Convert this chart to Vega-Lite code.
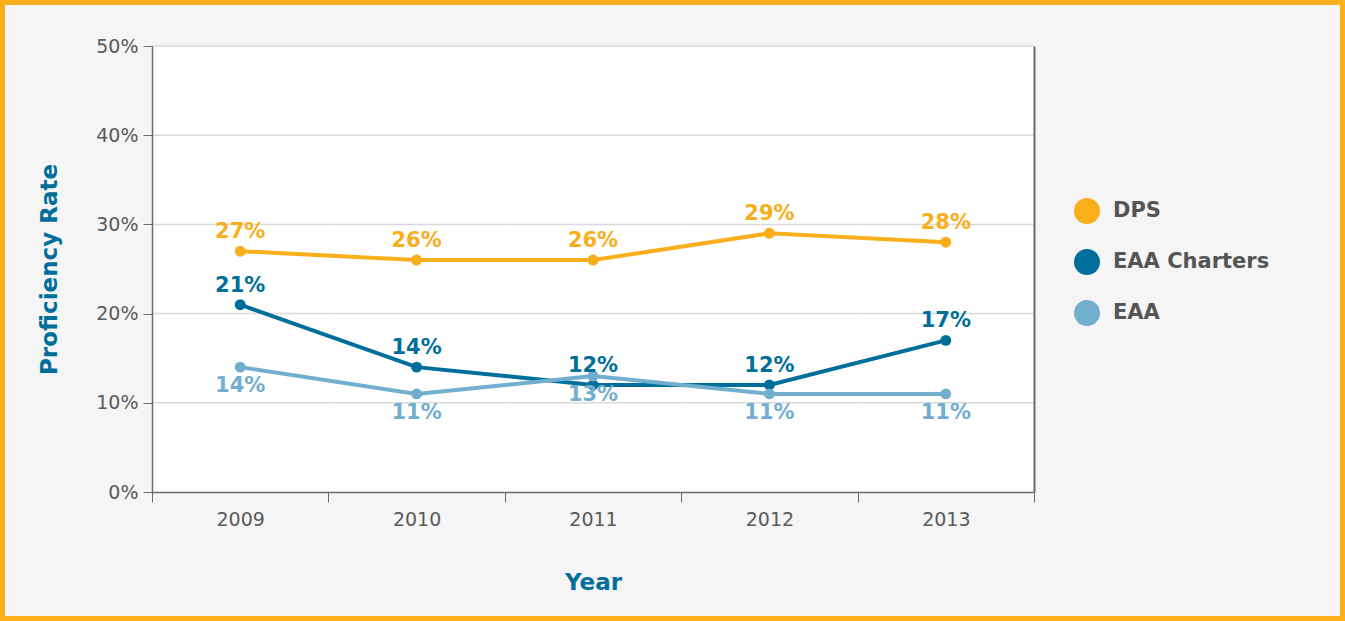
{
  "$schema": "https://vega.github.io/schema/vega-lite/v6.json",
  "width": 1345,
  "height": 621,
  "autosize": "none",
  "padding": 0,
  "background": "#F5F5F5",
  "config": {
    "view": {"fill": "#F5F5F5", "stroke": "#F9AE1B", "strokeWidth": 10},
    "font": "DejaVu Sans",
    "axis": {"zindex": 1},
    "legend": {
      "orient": "none",
      "legendX": 1074,
      "legendY": 198,
      "symbolType": "circle",
      "symbolSize": 676,
      "symbolOpacity": 1,
      "symbolStrokeWidth": 0,
      "labelFontSize": 21,
      "labelFontWeight": "bold",
      "labelColor": "#555555",
      "labelOffset": 13,
      "rowPadding": 25
    }
  },
  "data": {
    "values": [
      {"year": "2009", "series": "DPS", "value": 0.27},
      {"year": "2010", "series": "DPS", "value": 0.26},
      {"year": "2011", "series": "DPS", "value": 0.26},
      {"year": "2012", "series": "DPS", "value": 0.29},
      {"year": "2013", "series": "DPS", "value": 0.28},
      {"year": "2009", "series": "EAA Charters", "value": 0.21},
      {"year": "2010", "series": "EAA Charters", "value": 0.14},
      {"year": "2011", "series": "EAA Charters", "value": 0.12},
      {"year": "2012", "series": "EAA Charters", "value": 0.12},
      {"year": "2013", "series": "EAA Charters", "value": 0.17},
      {"year": "2009", "series": "EAA", "value": 0.14},
      {"year": "2010", "series": "EAA", "value": 0.11},
      {"year": "2011", "series": "EAA", "value": 0.13},
      {"year": "2012", "series": "EAA", "value": 0.11},
      {"year": "2013", "series": "EAA", "value": 0.11}
    ]
  },
  "encoding": {
    "x": {
      "field": "year",
      "type": "ordinal",
      "scale": {"range": [152, 1034], "paddingInner": 0, "paddingOuter": 0},
      "axis": {
        "orient": "bottom",
        "offset": -129,
        "zindex": 1,
        "title": "Year",
        "labelAngle": 0,
        "labelFontSize": 19,
        "labelColor": "#5A5A5A",
        "labelPadding": 8,
        "tickBand": "extent",
        "tickSize": 10,
        "tickColor": "#6B6B6B",
        "domainColor": "#6B6B6B",
        "domainWidth": 1.5,
        "titleFontSize": 23,
        "titleFontWeight": "bold",
        "titleColor": "#006E9A",
        "titlePadding": 42,
        "grid": false
      }
    }
  },
  "layer": [
    {
      "transform": [{"filter": "datum.series === 'DPS'"}],
      "mark": {"type": "bar", "color": "white", "stroke": "white", "strokeWidth": 1},
      "encoding": {
        "y": {
          "datum": 0,
          "type": "quantitative",
          "scale": {"domain": [0, 0.5], "range": [492, 46], "nice": false},
          "axis": {
            "orient": "right",
            "offset": -311,
            "zindex": 1,
            "labels": false,
            "ticks": false,
            "grid": false,
            "title": null,
            "domainColor": "#6B6B6B",
            "domainWidth": 2
          }
        },
        "y2": {"datum": 0.5}
      }
    },
    {
      "transform": [{"filter": "datum.series === 'DPS'"}],
      "layer": [
        {
          "mark": {"type": "bar", "fillOpacity": 0, "stroke": "#D9D9D9", "strokeWidth": 1.5},
          "encoding": {"y": {"datum": 0.1, "type": "quantitative", "axis": null}, "y2": {"datum": 0.1}}
        },
        {
          "mark": {"type": "bar", "fillOpacity": 0, "stroke": "#D9D9D9", "strokeWidth": 1.5},
          "encoding": {"y": {"datum": 0.2, "type": "quantitative", "axis": null}, "y2": {"datum": 0.2}}
        },
        {
          "mark": {"type": "bar", "fillOpacity": 0, "stroke": "#D9D9D9", "strokeWidth": 1.5},
          "encoding": {"y": {"datum": 0.3, "type": "quantitative", "axis": null}, "y2": {"datum": 0.3}}
        },
        {
          "mark": {"type": "bar", "fillOpacity": 0, "stroke": "#D9D9D9", "strokeWidth": 1.5},
          "encoding": {"y": {"datum": 0.4, "type": "quantitative", "axis": null}, "y2": {"datum": 0.4}}
        },
        {
          "mark": {"type": "bar", "fillOpacity": 0, "stroke": "#D9D9D9", "strokeWidth": 1.5},
          "encoding": {"y": {"datum": 0.5, "type": "quantitative", "axis": null}, "y2": {"datum": 0.5}}
        }
      ]
    },
    {
      "mark": {"type": "line", "strokeWidth": 4},
      "encoding": {
        "y": {
          "field": "value",
          "type": "quantitative",
          "scale": {"domain": [0, 0.5], "range": [492, 46], "nice": false},
          "axis": {
            "orient": "left",
            "offset": -152,
            "zindex": 1,
            "values": [0, 0.1, 0.2, 0.3, 0.4, 0.5],
            "format": ".0%",
            "title": "Proficiency Rate",
            "labelFontSize": 19,
            "labelColor": "#5A5A5A",
            "labelPadding": 5,
            "tickSize": 9,
            "tickColor": "#6B6B6B",
            "domainColor": "#6B6B6B",
            "domainWidth": 1.5,
            "grid": false,
            "titleFontSize": 23,
            "titleFontWeight": "bold",
            "titleColor": "#006E9A",
            "titlePadding": 34
          }
        },
        "color": {
          "field": "series",
          "type": "nominal",
          "title": null,
          "scale": {"domain": ["DPS", "EAA Charters", "EAA"], "range": ["#F9AE1B", "#006E9A", "#72AECD"]}
        }
      }
    },
    {
      "mark": {"type": "circle", "size": 120, "opacity": 1},
      "encoding": {
        "y": {"field": "value", "type": "quantitative", "axis": null},
        "color": {"field": "series", "type": "nominal", "title": null}
      }
    },
    {
      "transform": [{"filter": "datum.series !== 'EAA'"}],
      "mark": {"type": "text", "dy": -19, "fontSize": 21, "fontWeight": "bold"},
      "encoding": {
        "y": {"field": "value", "type": "quantitative", "axis": null},
        "text": {"field": "value", "type": "quantitative", "format": ".0%"},
        "color": {"field": "series", "type": "nominal", "title": null}
      }
    },
    {
      "transform": [{"filter": "datum.series === 'EAA'"}],
      "mark": {"type": "text", "dy": 19, "fontSize": 21, "fontWeight": "bold"},
      "encoding": {
        "y": {"field": "value", "type": "quantitative", "axis": null},
        "text": {"field": "value", "type": "quantitative", "format": ".0%"},
        "color": {"field": "series", "type": "nominal", "title": null}
      }
    }
  ]
}
